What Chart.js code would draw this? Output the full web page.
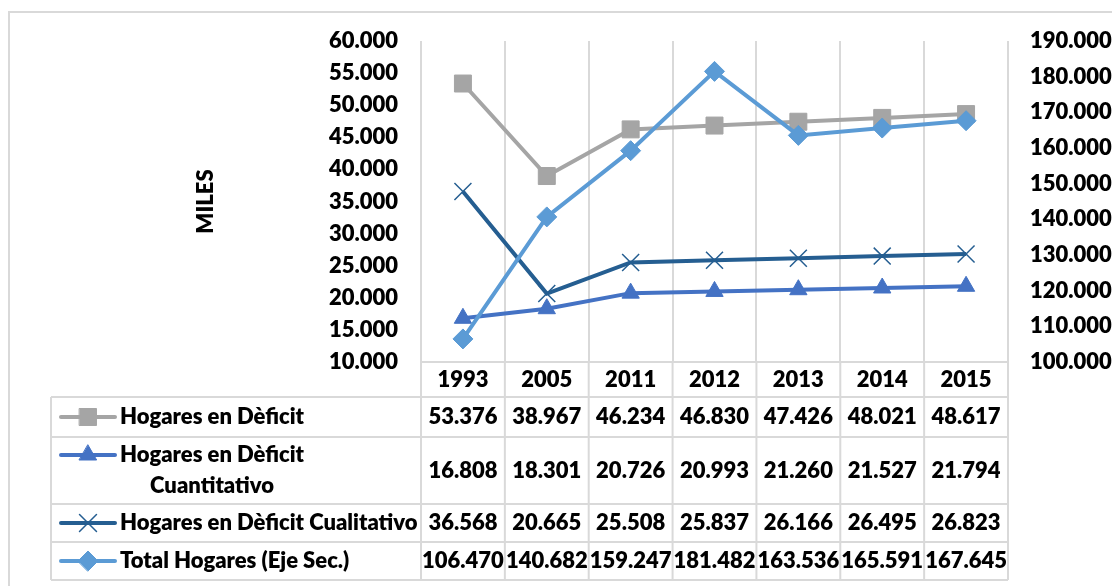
<!DOCTYPE html>
<html>
<head>
<meta charset="utf-8">
<script src="https://cdn.jsdelivr.net/npm/chart.js@4.4.1/dist/chart.umd.min.js"></script>
<style>
  body { margin: 0; background: #fff; }
  #chart { display: block; }
</style>
</head>
<body>
<canvas id="chart" width="1112" height="586"></canvas>
<script>
var years = ['1993', '2005', '2011', '2012', '2013', '2014', '2015'];
var deficit = [53376, 38967, 46234, 46830, 47426, 48021, 48617];
var deficitCuanti = [16808, 18301, 20726, 20993, 21260, 21527, 21794];
var deficitCuali = [36568, 20665, 25508, 25837, 26166, 26495, 26823];
var totalHogares = [106470, 140682, 159247, 181482, 163536, 165591, 167645];
var seriesNames = ['Hogares en Dèficit', 'Hogares en Dèficit Cuantitativo', 'Hogares en Dèficit Cualitativo', 'Total Hogares (Eje Sec.)'];
var leftTicks = [10000, 15000, 20000, 25000, 30000, 35000, 40000, 45000, 50000, 55000, 60000];
var rightTicks = [100000, 110000, 120000, 130000, 140000, 150000, 160000, 170000, 180000, 190000];

var FONT = 'Lato, "Liberation Sans", sans-serif';
var FSIZE = 22;
var FWEIGHT = '800';
var GRID = '#d9d9d9';

// 10000 -> "10.000"
function fmt(v) {
    return String(Math.round(v)).replace(/\B(?=(\d{3})+(?!\d))/g, '.');
}

var series = [
    { name: seriesNames[0], data: deficit, color: '#a5a5a5', style: 'rect', radius: 12, axis: 'y', lines: ['Hogares en Dèficit'] },
    { name: seriesNames[1], data: deficitCuanti, color: '#4472c4', style: 'triangle', radius: 10, axis: 'y', lines: ['Hogares en Dèficit', 'Cuantitativo'] },
    { name: seriesNames[2], data: deficitCuali, color: '#255e91', style: 'crossRot', radius: 12, axis: 'y', lines: ['Hogares en Dèficit Cualitativo'] },
    { name: seriesNames[3], data: totalHogares, color: '#5b9bd5', style: 'rectRot', radius: 10, axis: 'y2', lines: ['Total Hogares (Eje Sec.)'] }
];

// table below the plot, columns come from the x scale
var tablePlugin = {
    id: 'dataTable',
    beforeDraw: function (chart) {
        var ctx = chart.ctx;
        ctx.save();
        ctx.strokeStyle = GRID;
        ctx.lineWidth = 2;
        ctx.strokeRect(9, 12, 1200, 700);
        ctx.restore();
    },
    afterDraw: function (chart) {
        var ctx = chart.ctx;
        var x = chart.scales.x;
        var area = chart.chartArea;
        var step = x.getPixelForValue(1) - x.getPixelForValue(0);
        var edges = [];
        for (var i = 0; i <= years.length; i++) {
            edges.push(x.getPixelForValue(0) - step / 2 + i * step);
        }
        var tableLeft = 51;
        var rowLines = [397, 437, 504, 542, 580];
        var lastEdge = edges[edges.length - 1];

        ctx.save();
        ctx.strokeStyle = GRID;
        ctx.lineWidth = 2;
        ctx.beginPath();
        edges.forEach(function (e) {
            ctx.moveTo(e, area.bottom);
            ctx.lineTo(e, rowLines[rowLines.length - 1]);
        });
        ctx.moveTo(tableLeft, rowLines[0]);
        ctx.lineTo(tableLeft, rowLines[rowLines.length - 1]);
        ctx.moveTo(edges[0], area.bottom);
        ctx.lineTo(lastEdge, area.bottom);
        rowLines.forEach(function (y) {
            ctx.moveTo(tableLeft, y);
            ctx.lineTo(lastEdge, y);
        });
        ctx.stroke();

        ctx.fillStyle = '#000';
        ctx.font = FWEIGHT + ' ' + FSIZE + 'px ' + FONT;
        ctx.textBaseline = 'middle';
        series.forEach(function (s, r) {
            var top = rowLines[r], bottom = rowLines[r + 1];
            var mid = (top + bottom) / 2;
            var lh = 31;
            var firstY = mid - (s.lines.length - 1) * lh / 2;

            // legend key
            ctx.strokeStyle = s.color;
            ctx.lineWidth = 4;
            ctx.lineCap = 'round';
            ctx.beginPath();
            ctx.moveTo(61, firstY);
            ctx.lineTo(115, firstY);
            ctx.stroke();
            ctx.fillStyle = s.color;
            ctx.lineWidth = s.style === 'crossRot' ? 1.5 : 1;
            Chart.helpers.drawPoint(ctx, { pointStyle: s.style, radius: s.radius, rotation: 0, borderWidth: ctx.lineWidth }, 88, firstY);

            // label
            ctx.fillStyle = '#000';
            ctx.textAlign = 'left';
            ctx.fillText(s.lines[0], 120, firstY);
            if (s.lines.length > 1) {
                var w = ctx.measureText(s.lines[0]).width;
                ctx.textAlign = 'center';
                for (var k = 1; k < s.lines.length; k++) {
                    ctx.fillText(s.lines[k], 120 + w / 2, firstY + k * lh);
                }
            }

            // values
            ctx.textAlign = 'center';
            s.data.forEach(function (v, c) {
                ctx.fillText(fmt(v), x.getPixelForValue(c), mid);
            });
        });
        ctx.restore();
    }
};

var tickFont = { family: FONT, size: FSIZE, weight: FWEIGHT };

var ctx = document.getElementById('chart').getContext('2d');
new Chart(ctx, {
    type: 'line',
    data: {
        labels: years,
        datasets: series.map(function (s, i) {
            return {
                label: s.name,
                data: s.data,
                yAxisID: s.axis,
                borderColor: s.color,
                backgroundColor: s.color,
                borderWidth: 4,
                pointStyle: s.style,
                pointRadius: s.radius,
                pointHoverRadius: s.radius,
                pointBackgroundColor: s.color,
                pointBorderColor: s.color,
                pointBorderWidth: s.style === 'crossRot' ? 1.5 : 1,
                tension: 0,
                order: 4 - i
            };
        })
    },
    options: {
        responsive: false,
        animation: false,
        layout: { padding: { left: 193, top: 41, right: 0, bottom: 0 } },
        scales: {
            x: {
                type: 'category',
                offset: true,
                grid: { display: true, offset: true, color: GRID, lineWidth: 2, drawTicks: false },
                border: { display: false },
                ticks: { color: '#000', font: tickFont, padding: 5, maxRotation: 0 },
                afterFit: function (scale) { scale.height = 586 - 362; }
            },
            y: {
                position: 'left',
                min: leftTicks[0],
                max: leftTicks[leftTicks.length - 1],
                grid: { display: false, drawTicks: false },
                border: { display: false },
                afterBuildTicks: function (scale) {
                    scale.ticks = leftTicks.map(function (v) { return { value: v }; });
                },
                ticks: {
                    color: '#000',
                    font: tickFont,
                    padding: 23,
                    callback: function (v) { return fmt(v); }
                },
                title: {
                    display: true,
                    text: 'MILES',
                    color: '#000',
                    font: tickFont,
                    padding: 0
                },
                afterFit: function (scale) { scale.width = 421 - 193; }
            },
            y2: {
                position: 'right',
                min: rightTicks[0],
                max: rightTicks[rightTicks.length - 1],
                grid: { display: false, drawTicks: false },
                border: { display: false },
                afterBuildTicks: function (scale) {
                    scale.ticks = rightTicks.map(function (v) { return { value: v }; });
                },
                ticks: {
                    color: '#000',
                    font: tickFont,
                    padding: 22,
                    callback: function (v) { return fmt(v); }
                },
                afterFit: function (scale) { scale.width = 1112 - 1008; }
            }
        },
        plugins: {
            legend: { display: false },
            tooltip: { enabled: false }
        }
    },
    plugins: [tablePlugin]
});
</script>
</body>
</html>
